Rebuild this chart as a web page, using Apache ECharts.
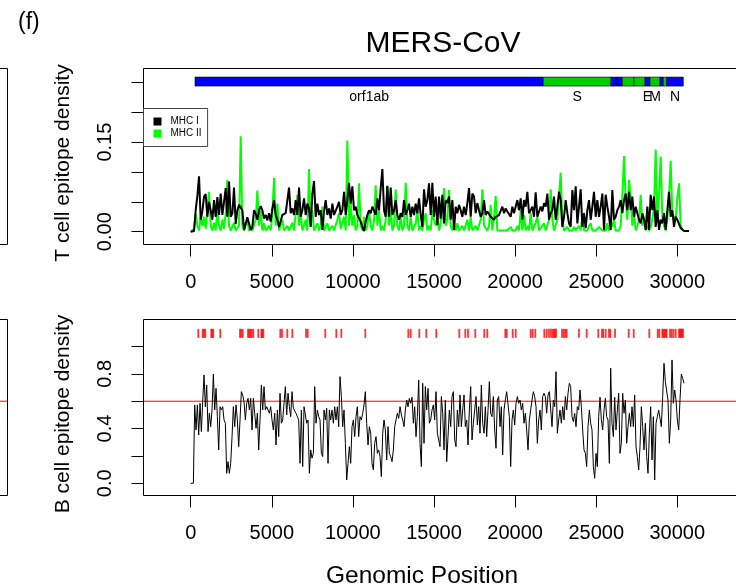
<!DOCTYPE html>
<html>
<head>
<meta charset="utf-8">
<script src="https://cdn.jsdelivr.net/npm/echarts@6/dist/echarts.min.js"></script>
<style>
  html, body { margin: 0; padding: 0; background: #fff; }
  #chart { width: 736px; height: 586px; }
</style>
</head>
<body>
<div id="chart"></div>
<script>
// bp between transcribed samples of the density curves
const tStep = 102.75;
const bStep = 82.2;

// T cell epitope density, MHC I
const mhc1 = [
  0,0.001,0.001,0.036,0.060,0.093,0.020,0.034,0.059,0.063,
  0.025,0.050,0.036,0.020,0.053,0.025,0.058,0.028,0.064,0.028,
  0.050,0.073,0.025,0.084,0.025,0.031,0.074,0.013,0.036,0.045,
  0.048,0.036,0.003,0.006,0.024,0.014,0.003,0.008,0.036,0.030,
  0.020,0.036,0.043,0.036,0.022,0.028,0.019,0.031,0.017,0.039,
  0.053,0.028,0.020,0.008,0.011,0.028,0.025,0.031,0.028,0.074,
  0.031,0.039,0.028,0.053,0.028,0.074,0.025,0.036,0.056,0.028,
  0.047,0.039,0.008,0.064,0.085,0.025,0.047,0.028,0.036,0.003,
  0.034,0.053,0.028,0.039,0.022,0.047,0.028,0.025,0.042,0.050,
  0.028,0.036,0.067,0.028,0.053,0.082,0.047,0.076,0.036,0.042,
  0.028,0.025,0.017,0.008,0.001,0.017,0.028,0.036,0.031,0.042,
  0.039,0.028,0.056,0.036,0.073,0.105,0.036,0.025,0.077,0.025,
  0.074,0.028,0.036,0.053,0.028,0.020,0.031,0.025,0.053,0.028,
  0.036,0.047,0.025,0.042,0.028,0.047,0.031,0.056,0.028,0.008,
  0.071,0.042,0.053,0.081,0.028,0.082,
  0.025,0.059,0.011,0.059,0.022,0.062,0.014,0.053,0.048,0.059,
  0.020,0.053,0.003,0.042,0.031,0.045,0.036,0.025,0.042,0.028,
  0.048,0.073,0.025,0.064,0.059,0.031,0.048,0.036,0.025,0.031,
  0.053,0.028,0.034,0.031,0.025,0.028,0.020,0.025,0.022,0.028,
  0.025,0.042,0.031,0.039,0.034,0.031,0.025,0.042,0.031,0.028,
  0.053,0.036,0.056,0.020,0.053,0.042,0.067,0.031,0.036,0.042,
  0.025,0.066,0.025,0.022,0.042,0.034,0.048,0.042,0.064,0.020,
  0.031,0.036,0.059,0.020,0.042,0.067,0.053,0.008,0.025,0.053,
  0.031,0.014,0.008,0.070,0.036,0.076,0.014,0.042,0.071,0.008,
  0.031,0.006,0.036,0.053,0.020,0.042,0.067,0.025,0.053,0.025,
  0.042,0.064,0.003,0.062,0.042,0.025,0.003,0.070,0.020,0.025,
  0.036,0.042,0.053,0.031,0.053,0.064,0.036,0.067,0.036,0.059,
  0.025,0.042,0.031,0.020,0.014,0.031,0.020,0.003,0.042,0.003,
  0.062,0.036,0.059,0.008,0.036,0.003,0.020,0.014,0.031,0.003,
  0.036,0.067,0.025,0.036,0.008,0.025,0.020,0.022,0.006,0.003,
  0.001,0.001,0.001,0.001
];

// T cell epitope density, MHC II
const mhc2 = [
  0,0,0.005,0.030,0.010,0.002,0.025,0.010,0.025,0.005,
  0.040,0.067,0.010,0.002,0.015,0.002,0.036,0.010,0.002,0.020,
  0.005,0.030,0.087,0.010,0.002,0.002,0.015,0.002,0.002,0.010,
  0.160,0.010,0.002,0.002,0.020,0.002,0.008,0.002,0.002,0.020,
  0.069,0.010,0.036,0.002,0.014,0.002,0.002,0.010,0.002,0.030,
  0.090,0.010,0.047,0.002,0.002,0.020,0.002,0.002,0.010,0.002,
  0.002,0.015,0.002,0.030,0.062,0.010,0.031,0.002,0.002,0.020,
  0.002,0.105,0.010,0.036,0.002,0.002,0.014,0.002,0.010,0.042,
  0.002,0.002,0.014,0.002,0.002,0.010,0.002,0.002,0.020,0.031,
  0.005,0.002,0.025,0.002,0.153,0.010,0.047,0.010,0.028,0.002,
  0.010,0.081,0.010,0.002,0.025,0.002,0.010,0.036,0.010,0.002,
  0.020,0.078,0.010,0.036,0.002,0.010,0.002,0.020,0.076,0.010,
  0.036,0.002,0.010,0.071,0.010,0.002,0.025,0.002,0.010,0.082,
  0.010,0.002,0.025,0.002,0.002,0.014,0.036,0.002,0.010,0.002,
  0.020,0.031,0.002,0.010,0.002,0.036,
  0.020,0.010,0.025,0.002,0.015,0.040,0.073,0.010,0.020,0.070,
  0.010,0.002,0.014,0.002,0.014,0.002,0.002,0.010,0.002,0.002,
  0.020,0.002,0.025,0.002,0.002,0.010,0.002,0.002,0.020,0.071,
  0.010,0.008,0.002,0.010,0.045,0.002,0.025,0.060,0.002,0.002,
  0.002,0.005,0.002,0.002,0.002,0.002,0.008,0.002,0.002,0.002,
  0.010,0.002,0.036,0.002,0.028,0.002,0.010,0.002,0.031,0.002,
  0.002,0.015,0.025,0.002,0.002,0.010,0.014,0.002,0.002,0.020,
  0.071,0.020,0.002,0.002,0.020,0.060,0.099,0.020,0.002,0.002,
  0.008,0.002,0.002,0.002,0.008,0.002,0.002,0.010,0.002,0.028,
  0.002,0.002,0.002,0.010,0.014,0.002,0.002,0.002,0.002,0.008,
  0.008,0.002,0.002,0.002,0.014,0.002,0.002,0.010,0.020,0.002,
  0.002,0.002,0.010,0.060,0.127,0.053,0.020,0.087,0.059,0.010,
  0.036,0.002,0.010,0.020,0.062,0.010,0.025,0.002,0.010,0.002,
  0.008,0.020,0.040,0.138,0.020,0.060,0.126,0.025,0.010,0.002,
  0.020,0.060,0.119,0.030,0.025,0.020,0.057,0.081,0.010,0.003,
  0.001,0.001,0.001,0.001
];

// B cell epitope density
const bcell = [
  0,0,0,0.573,0.390,0.573,0.353,0.585,0.378,0.597,
  0.792,0.560,0.719,0.378,0.512,0.414,0.536,0.799,0.536,0.694,
  0.487,0.244,0.560,0.536,0.560,0.463,0.439,0.073,0.158,0.073,
  0.146,0.341,0.560,0.414,0.573,0.463,0.268,0.463,0.670,0.646,
  0.597,0.463,0.585,0.621,0.536,0.621,0.390,0.621,0.512,0.402,
  0.512,0.244,0.463,0.719,0.536,0.707,0.536,0.560,0.536,0.512,
  0.560,0.463,0.390,0.512,0.280,0.536,0.341,0.658,0.439,0.463,
  0.585,0.707,0.500,0.658,0.560,0.487,0.670,0.548,0.536,0.512,
  0.487,0.463,0.146,0.536,0.122,0.560,0.573,0.439,0.463,0.073,
  0.244,0.183,0.219,0.707,0.439,0.536,0.487,0.463,0.219,0.195,
  0.536,0.463,0.548,0.146,0.536,0.463,0.536,0.439,0.560,0.463,
  0.560,0.414,0.780,0.634,0.414,0.536,0.292,0.024,0.146,0.268,
  0.146,0.414,0.463,0.341,0.487,0.560,0.341,0.487,0.463,0.512,
  0.573,0.670,0.439,0.280,0.414,0.366,0.146,0.097,0.292,0.341,
  0.219,0.244,0.195,0.049,0.366,0.463,0.390,0.171,0.414,0.219,
  0.195,0.158,0.244,0.414,0.463,0.512,0.475,0.560,0.500,0.463,
  0.414,0.536,0.609,0.560,0.621,0.585,0.629,0.439,0.560,0.341,
  0.487,0.755,0.292,0.122,0.731,0.292,0.707,0.536,0.694,0.439,
  0.463,0.536,0.573,0.463,0.670,0.366,0.366,
  0.268,0.634,0.512,0.244,0.609,0.158,0.341,0.536,0.414,0.634,
  0.670,0.317,0.268,0.536,0.414,0.646,0.414,0.536,0.646,0.414,
  0.463,0.280,0.536,0.707,0.317,0.439,0.536,0.634,0.426,0.560,
  0.366,0.719,0.439,0.366,0.560,0.341,0.536,0.743,0.512,0.487,
  0.634,0.390,0.256,0.609,0.634,0.414,0.560,0.207,0.536,0.609,
  0.670,0.658,0.487,0.122,0.463,0.536,0.426,0.585,0.634,0.585,
  0.609,0.536,0.585,0.439,0.512,0.390,0.244,0.463,0.536,0.609,
  0.670,0.634,0.560,0.292,0.463,0.536,0.390,0.634,0.658,0.634,
  0.512,0.646,0.670,0.658,0.414,0.609,0.560,0.816,0.366,0.463,
  0.536,0.439,0.560,0.463,0.634,0.536,0.658,0.731,0.707,0.487,
  0.451,0.512,0.414,0.560,0.536,0.682,0.560,0.390,0.244,0.219,
  0.122,0.414,0.536,0.439,0.390,0.122,0.037,0.219,0.122,0.487,
  0.629,0.463,0.390,0.536,0.621,0.487,0.463,0.146,0.841,0.439,
  0.341,0.629,0.390,0.536,0.658,0.219,0.292,0.658,0.512,0.609,
  0.292,0.414,0.512,0.414,0.560,0.414,0.646,0.268,0.195,0.097,
  0.268,0.560,0.414,0.244,0.439,0.195,0.073,0.366,0.560,0.171,
  0.487,0.024,0.439,0.487,0.536,0.548,0.414,0.634,0.877,0.743,
  0.755,0.609,0.292,0.463,0.902,0.585,0.682,0.609,0.463,0.390,
  0.609,0.799,0.768,0.731
];

// predicted B cell epitope positions (bp)
const bEpitopes = [
  469, 740, 820, 900, 1270, 1313, 1393, 1825, 3040, 3120, 3206, 3533, 3613, 3687,
  3761, 3860, 4168, 4353, 4414, 4476, 5524, 5629, 5956, 6264, 7109, 7213, 8298,
  8977, 9285, 10765, 13416, 13564, 14094, 14525, 15142, 16560, 16930, 17096,
  17546, 18101, 18286, 19396, 19482, 19852, 20037, 20962, 21085, 21245, 21800,
  21948, 22090, 22213, 22318, 22386, 22460, 22522, 22891, 22996, 23088, 23181,
  23939, 24414, 25129, 25357, 25437, 25585, 25789, 25869, 26159, 27004, 27312,
  28274, 28792, 28890, 29075, 29143, 29211, 29279, 29346, 29550, 29655, 29766,
  29901, 30105, 30167, 30228, 30290, 30351
];

// genome map
const geneStart = [265, 21738, 25912, 26220, 26325, 26610, 27331, 28009, 28317, 28934, 29137, 29347];
const geneEnd   = [21738, 25912, 26220, 26325, 26610, 27331, 28009, 28317, 28934, 29137, 29347, 30370];
const geneKind  = ['b', 'g', 'b', 'b', 'b', 'g', 'g', 'b', 'g', 'b', 'g', 'b'];
const geneLabel = ['orf1ab', 'S', '', '', '', '', '', 'E', 'M', '', '', 'N'];

// axis labels that R printed (others dropped for overlap)
const tTickLabels = [0, 0.15];
const bTickLabels = [0, 0.4, 0.8];
const bThreshold = 0.6;

const geneColors = { b: '#0000ff', g: '#00cd00' };
const pairs = (vals, step) => vals.map((v, i) => [i * step, v]);
const FONT = 'Liberation Sans, Arial, sans-serif';
const RED = '#ff0000';

const X_MIN = -2910, X_MAX = 33650;
const T_MIN = -0.0215, T_MAX = 0.2738;
const B_MIN = -0.0892, B_MAX = 1.1974;

const chart = echarts.init(document.getElementById('chart'));

const hiddenAxis = (grid, min, max) => ({
  gridIndex: grid, type: 'value', min, max, show: false, splitLine: { show: false }
});
const tickAxisX = grid => ({
  gridIndex: grid, type: 'value', min: 0, max: 30000, interval: 5000,
  axisLine: { show: false },
  axisTick: { length: 12, lineStyle: { color: '#000', width: 1 } },
  axisLabel: { fontSize: 20, color: '#000', margin: 28, fontFamily: FONT, formatter: v => String(v) },
  splitLine: { show: false }
});
const tickAxisY = (grid, max, interval, shown, digits) => ({
  gridIndex: grid, type: 'value', min: 0, max, interval,
  axisLine: { show: false },
  axisTick: { length: 12, lineStyle: { color: '#000', width: 1 } },
  axisLabel: {
    fontSize: 20, color: '#000', margin: 28, rotate: 90, fontFamily: FONT,
    formatter: v => shown.some(t => Math.abs(t - v) < 1e-9) ? v.toFixed(digits) : ''
  },
  splitLine: { show: false }
});
const nameAxisY = (grid, min, max, name) => ({
  gridIndex: grid, type: 'value', min, max,
  axisLine: { show: false }, axisTick: { show: false }, axisLabel: { show: false },
  splitLine: { show: false },
  name, nameLocation: 'middle', nameGap: 70,
  nameTextStyle: { fontSize: 21, color: '#000', fontFamily: FONT, padding: [0, 13, 0, 0] }
});
// horizontal threshold rule across a whole panel
const rule = (ax, x0, x1) => ({
  type: 'line', xAxisIndex: ax, yAxisIndex: ax, silent: true,
  data: [[x0, bThreshold], [x1, bThreshold]], showSymbol: false, symbol: 'none',
  color: RED, lineStyle: { color: RED, width: 1 }, z: 2
});
const box = { show: true, borderColor: '#000', borderWidth: 1, outerBoundsMode: 'none' };

chart.setOption({
  animation: false,
  textStyle: { fontFamily: FONT },
  title: [
    { text: '(f)', left: 13, top: 6, textStyle: { fontSize: 23, fontWeight: 'normal', color: '#000' } },
    { text: 'MERS-CoV', left: 438, top: 24, textAlign: 'center',
      textStyle: { fontSize: 30, fontWeight: 'normal', color: '#000' } },
    { text: 'Genomic Position', left: 417, top: 559, textAlign: 'center',
      textStyle: { fontSize: 24.5, fontWeight: 'normal', color: '#000' } }
  ],
  legend: {
    data: ['MHC I', 'MHC II'],
    orient: 'vertical', left: 143.5, top: 108.5,
    icon: 'rect', itemWidth: 8, itemHeight: 8, itemGap: 2,
    padding: [8, 6, 8, 10],
    selectedMode: false,
    borderColor: '#444', borderWidth: 1, backgroundColor: '#fff',
    itemStyle: { borderWidth: 0 },
    textStyle: { fontSize: 10, color: '#000', lineHeight: 10, padding: [0, 0, 0, 4] }
  },
  grid: [
    // top panel: data box, x-tick strip, y-tick strip
    Object.assign({ left: 143.5, right: -0.5, top: 68.5, bottom: 341.5 }, box),
    { left: 190.7, right: 58.7, top: 68.5, bottom: 341.5, outerBoundsMode: 'none' },
    { left: 143.5, right: -0.5, top: 82.3, bottom: 354.3, outerBoundsMode: 'none' },
    // bottom panel
    Object.assign({ left: 143.5, right: -0.5, top: 319.5, bottom: 90.5 }, box),
    { left: 190.7, right: 58.7, top: 319.5, bottom: 90.5, outerBoundsMode: 'none' },
    { left: 143.5, right: -0.5, top: 346.5, bottom: 102.7, outerBoundsMode: 'none' },
    // edges of the neighbouring panels on the left
    Object.assign({ left: -600, right: 728.5, top: 68.5, bottom: 341.5 }, box),
    Object.assign({ left: -600, right: 728.5, top: 319.5, bottom: 90.5 }, box)
  ],
  xAxis: [
    hiddenAxis(0, X_MIN, X_MAX),
    tickAxisX(1),
    hiddenAxis(2, 0, 1),
    hiddenAxis(3, X_MIN, X_MAX),
    tickAxisX(4),
    hiddenAxis(5, 0, 1),
    hiddenAxis(6, 0, 1),
    hiddenAxis(7, 0, 1)
  ],
  yAxis: [
    nameAxisY(0, T_MIN, T_MAX, 'T cell epitope density'),
    hiddenAxis(1, 0, 1),
    tickAxisY(2, 0.25, 0.05, tTickLabels, 2),
    nameAxisY(3, B_MIN, B_MAX, 'B cell epitope density'),
    hiddenAxis(4, 0, 1),
    tickAxisY(5, 1, 0.2, bTickLabels, 1),
    hiddenAxis(6, 0, 1),
    hiddenAxis(7, B_MIN, B_MAX)
  ],
  series: [
    {
      name: 'MHC II', type: 'line', xAxisIndex: 0, yAxisIndex: 0,
      data: pairs(mhc2, tStep), showSymbol: false, symbol: 'none',
      color: '#00ff00', lineStyle: { color: '#00ff00', width: 2 }, z: 2
    },
    {
      name: 'MHC I', type: 'line', xAxisIndex: 0, yAxisIndex: 0,
      data: pairs(mhc1, tStep), showSymbol: false, symbol: 'none',
      color: '#000', lineStyle: { color: '#000', width: 2 }, z: 3
    },
    {
      type: 'custom', xAxisIndex: 0, yAxisIndex: 0, z: 4,
      data: geneStart.map((s, i) => [s, geneEnd[i]]),
      renderItem: (params, api) => {
        const i = params.dataIndex;
        const a = api.coord([api.value(0), 0.2594]);
        const b = api.coord([api.value(1), 0.2443]);
        const kids = [{
          type: 'rect',
          shape: { x: a[0], y: a[1], width: b[0] - a[0], height: b[1] - a[1] },
          style: { fill: geneColors[geneKind[i]], stroke: '#000', lineWidth: 0.6 }
        }];
        if (geneLabel[i]) {
          kids.push({
            type: 'text',
            style: {
              text: geneLabel[i], x: (a[0] + b[0]) / 2, y: api.coord([0, 0.226])[1],
              align: 'center', verticalAlign: 'middle',
              font: '14px ' + FONT, fill: '#000'
            }
          });
        }
        return { type: 'group', children: kids };
      }
    },
    rule(3, X_MIN, X_MAX),
    {
      type: 'line', xAxisIndex: 3, yAxisIndex: 3,
      data: pairs(bcell, bStep), showSymbol: false, symbol: 'none',
      color: '#000', lineStyle: { color: '#000', width: 1 }, z: 3
    },
    {
      type: 'scatter', xAxisIndex: 3, yAxisIndex: 3,
      data: bEpitopes.map(p => [p, 1.096]),
      symbol: 'rect', symbolSize: [1.8, 9],
      itemStyle: { color: RED }, z: 4
    },
    rule(7, 0, 1)
  ]
});
</script>
</body>
</html>
